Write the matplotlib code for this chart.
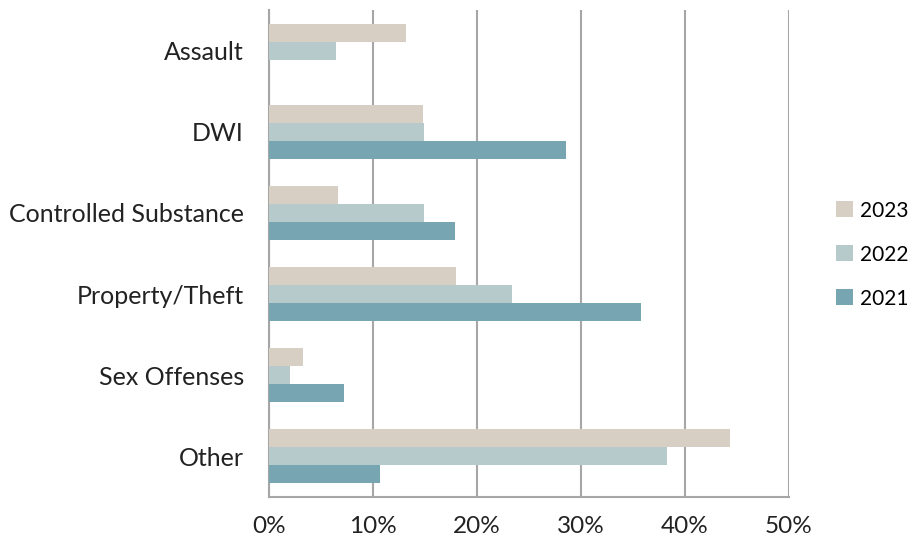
import matplotlib.pyplot as plt
import numpy as np
from matplotlib.ticker import PercentFormatter

categories = ['Assault', 'DWI', 'Controlled Substance', 'Property/Theft', 'Sex Offenses', 'Other']
years = ['2023', '2022', '2021']
share_2023 = [13.2, 14.8, 6.6, 18.0, 3.3, 44.3]
share_2022 = [6.4, 14.9, 14.9, 23.4, 2.0, 38.3]
share_2021 = [0.0, 28.6, 17.9, 35.8, 7.2, 10.7]
colors = ['#D7CFC3', '#B6CACB', '#77A6B2']

plt.rcParams['font.family'] = ['Lato', 'DejaVu Sans']

fig = plt.figure(figsize=(9.09, 5.44), dpi=100)
ax = fig.add_axes([269 / 909, 47 / 544, 520 / 909, 487 / 544])

y = np.arange(len(categories))
h = 0.222
for i, (vals, c, yr) in enumerate(zip([share_2023, share_2022, share_2021], colors, years)):
    ax.barh(y - h + i * h, vals, height=h, color=c, label=yr, zorder=3)

ax.set_ylim(len(categories) - 0.5, -0.5)
ax.set_xlim(0, 50)
ax.set_yticks(y)
ax.set_yticklabels(categories, fontsize=18, color='#222222')
ax.set_xticks(np.arange(0, 51, 10))
ax.xaxis.set_major_formatter(PercentFormatter(decimals=0))
ax.tick_params(axis='x', labelsize=17.5, colors='#222222', length=0, pad=14)
ax.tick_params(axis='y', length=0, pad=18)

ax.grid(axis='x', color='#A6A6A6', linewidth=1.5, zorder=0)
for side in ['top', 'right']:
    ax.spines[side].set_visible(False)
for side in ['left', 'bottom']:
    ax.spines[side].set_color('#A6A6A6')
    ax.spines[side].set_linewidth(1.5)

leg = fig.legend(loc='center left', bbox_to_anchor=(836 / 909, 0.532), frameon=False,
                 fontsize=15, handlelength=0.8, handleheight=0.8,
                 labelspacing=1.15, handletextpad=0.35, borderpad=0, borderaxespad=0)

fig.savefig('out.png', dpi=100)
